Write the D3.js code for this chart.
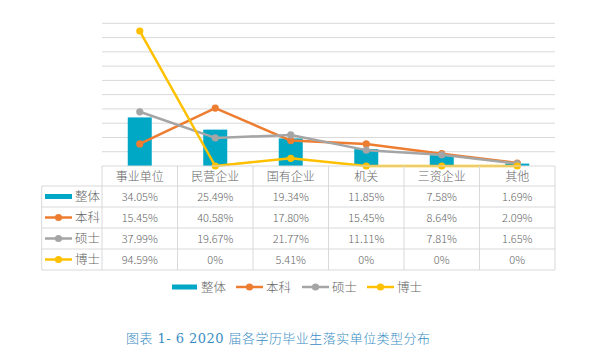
<!DOCTYPE html>
<html><head><meta charset="utf-8">
<script src="https://cdn.jsdelivr.net/npm/d3@7"></script>
<style>
html,body{margin:0;padding:0;background:#fff;}
svg text{font-family:"Noto Sans CJK SC","Noto Sans",sans-serif;font-weight:300;}
</style></head>
<body><svg id="c" width="592" height="360"></svg>
<script>
const categories = ["事业单位","民营企业","国有企业","机关","三资企业","其他"];
const seriesNames = ["整体","本科","硕士","博士"];
const overall  = [34.05,25.49,19.34,11.85,7.58,1.69];
const bachelor = [15.45,40.58,17.80,15.45,8.64,2.09];
const master   = [37.99,19.67,21.77,11.11,7.81,1.65];
const doctor   = [94.59,0,5.41,0,0,0];
const yTicks = [0,10,20,30,40,50,60,70,80,90,100];
const caption = "图表 1- 6 2020 届各学历毕业生落实单位类型分布";

const colors = ["#00A8C6","#ED7D31","#A5A5A5","#FFC000"];
const svg = d3.select("#c");
const pL=102, pR=555, pT=23.3, pB=166;
const x = d3.scaleBand().domain(categories).range([pL,pR]);
const y = d3.scaleLinear().domain([0,100]).range([pB,pT]);

// gridlines
svg.append("g").selectAll("line").data(yTicks.slice(1)).join("line")
  .attr("x1",pL).attr("x2",pR).attr("y1",d=>y(d)).attr("y2",d=>y(d))
  .attr("stroke","#D9D9D9").attr("stroke-width",1);

// bars
const bw = 24;
svg.append("g").selectAll("rect").data(overall).join("rect")
  .attr("x",(d,i)=>x(categories[i])+x.bandwidth()/2-bw/2)
  .attr("width",bw)
  .attr("y",d=>y(d)).attr("height",d=>y(0)-y(d))
  .attr("fill",colors[0]);

// lines
const lineData=[bachelor,master,doctor];
const line=d3.line().x((d,i)=>x(categories[i])+x.bandwidth()/2).y(d=>y(d));
lineData.forEach((arr,k)=>{
  const g=svg.append("g");
  g.append("path").datum(arr).attr("d",line).attr("fill","none")
   .attr("stroke",colors[k+1]).attr("stroke-width",2.5).attr("stroke-linejoin","round");
  g.selectAll("circle").data(arr).join("circle")
   .attr("cx",(d,i)=>x(categories[i])+x.bandwidth()/2).attr("cy",d=>y(d))
   .attr("r",3.6).attr("fill",colors[k+1]);
});

// table
const rowsY=[166,186,207,228,249,270];
const keyL=41.7;
const tg=svg.append("g");
const gridC="#D9D9D9";
const txtC="#666666";
tg.append("line").attr("x1",pL).attr("x2",pR).attr("y1",rowsY[0]).attr("y2",rowsY[0]).attr("stroke",gridC);
rowsY.slice(1).forEach(yy=>{
  tg.append("line").attr("x1",keyL).attr("x2",pR).attr("y1",yy).attr("y2",yy).attr("stroke",gridC);
});
tg.append("line").attr("x1",keyL).attr("x2",keyL).attr("y1",rowsY[1]).attr("y2",rowsY[5]).attr("stroke",gridC);
const colEdges=[pL].concat(categories.map(c=>x(c)+x.bandwidth()));
colEdges.forEach(xx=>{
  tg.append("line").attr("x1",xx).attr("x2",xx).attr("y1",rowsY[0]).attr("y2",rowsY[5]).attr("stroke",gridC);
});
tg.selectAll("text.h").data(categories).join("text").attr("class","h")
  .attr("x",d=>x(d)+x.bandwidth()/2).attr("y",(rowsY[0]+rowsY[1])/2+4.5)
  .attr("text-anchor","middle").attr("font-size",12).attr("fill",txtC).text(d=>d);
const allSeries=[overall,bachelor,master,doctor];
const fmt=v=> v===0? "0%" : v.toFixed(2)+"%";
allSeries.forEach((arr,r)=>{
  const cy=(rowsY[r+1]+rowsY[r+2])/2;
  tg.selectAll("text.v"+r).data(arr).join("text").attr("class","v"+r)
    .attr("x",(d,i)=>x(categories[i])+x.bandwidth()/2).attr("y",cy+4)
    .attr("text-anchor","middle").attr("font-size",11).attr("fill",txtC).text(fmt);
  if(r===0){
    tg.append("rect").attr("x",45).attr("y",cy-2.5).attr("width",27).attr("height",5).attr("fill",colors[0]);
  } else {
    tg.append("line").attr("x1",45).attr("x2",72).attr("y1",cy).attr("y2",cy).attr("stroke",colors[r]).attr("stroke-width",2.5);
    tg.append("circle").attr("cx",58.5).attr("cy",cy).attr("r",3.6).attr("fill",colors[r]);
  }
  tg.append("text").attr("x",75).attr("y",cy+4.5).attr("font-size",12.5).attr("fill",txtC).text(seriesNames[r]);
});

// legend
const lg=svg.append("g");
const legX=[172,236,302,367];
const ly=287;
seriesNames.forEach((n,i)=>{
  const lx=legX[i];
  if(i===0){
    lg.append("rect").attr("x",lx).attr("y",ly-2.5).attr("width",25).attr("height",5).attr("fill",colors[0]);
  } else {
    lg.append("line").attr("x1",lx).attr("x2",lx+27).attr("y1",ly).attr("y2",ly).attr("stroke",colors[i]).attr("stroke-width",2.5);
    lg.append("circle").attr("cx",lx+13.5).attr("cy",ly).attr("r",3.6).attr("fill",colors[i]);
  }
  lg.append("text").attr("x",lx+(i===0?29:30)).attr("y",ly+4.5).attr("font-size",12.5).attr("fill",txtC).text(n);
});

// caption
svg.append("text").attr("x",126).attr("y",343).attr("font-size",13)
  .attr("fill","#3A8DC4").attr("textLength",304).attr("lengthAdjust","spacing")
  .style("font-family",'"DejaVu Serif","Noto Sans CJK SC",serif').text(caption);
</script></body></html>
